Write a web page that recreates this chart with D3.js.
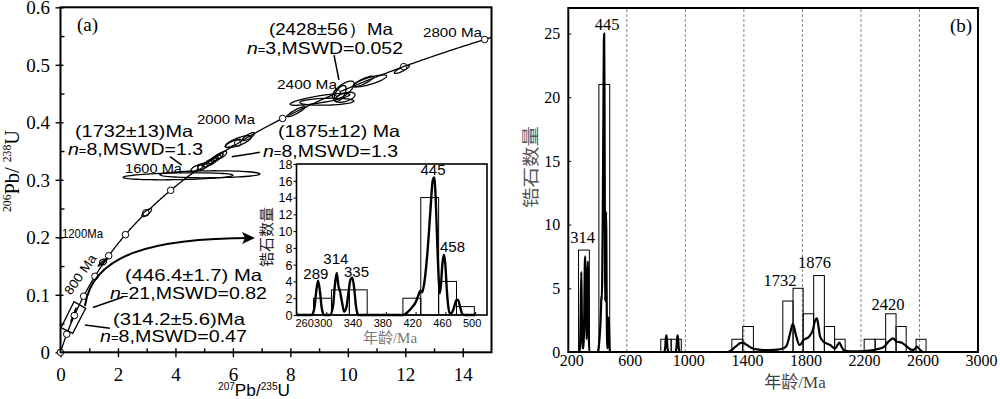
<!DOCTYPE html>
<html>
<head>
<meta charset="utf-8">
<script src="https://cdn.jsdelivr.net/npm/d3@7"></script>
<style>
body { margin: 0; background: #fff; }
text { font-family: "Liberation Sans", Arial, sans-serif; }
text.serif { font-family: "Liberation Serif", "Times New Roman", "Noto Sans CJK SC", serif; }
text.cjk { font-family: "Noto Sans CJK SC", sans-serif; }
</style>
</head>
<body>
<svg id="fig" width="1000" height="399"></svg>
<script>
// ---------- data: concordia diagram (a) ----------
var l238 = 1.55125e-10, l235 = 9.8485e-10;     // decay constants (1/yr)
var concordiaAges = d3.range(0, 2801, 200);     // Ma, marker circles

// error ellipses: [207Pb/235U, 206Pb/238U, sx, sy, rho]
var ellX   = [11.88, 10.54, 10.77, 9.84, 9.73, 9.90, 9.03, 9.27, 8.20, 6.19, 6.54, 6.01, 5.14, 5.26, 5.32, 5.41, 5.49, 5.61, 4.74, 4.97, 4.09, 5.20, 3.00, 1.48, 1.48, 0.39, 0.515];
var ellY   = [0.492, 0.471, 0.472, 0.456, 0.450, 0.4435, 0.440, 0.4358, 0.4184, 0.3663, 0.375, 0.3635, 0.3287, 0.3315, 0.3344, 0.337, 0.3402, 0.3431, 0.320, 0.324, 0.3061, 0.3096, 0.2428, 0.157, 0.157, 0.0562, 0.073];
var ellSx  = [0.26, 0.35, 0.58, 0.38, 0.21, 0.35, 1.04, 0.94, 0.31, 0.45, 0.21, 0.28, 0.17, 0.17, 0.17, 0.17, 0.17, 0.17, 0.20, 0.20, 1.91, 1.74, 0.17, 0.17, 0.12, 0.03, 0.03];
var ellSy  = [0.007, 0.0092, 0.0104, 0.0157, 0.014, 0.0087, 0.0104, 0.0061, 0.0087, 0.0104, 0.007, 0.007, 0.0065, 0.0065, 0.0065, 0.0065, 0.0065, 0.0065, 0.006, 0.006, 0.0061, 0.0061, 0.007, 0.007, 0.005, 0.004, 0.004];
var ellRho = [0.85, 0.85, 0.8, 0.7, 0.6, 0.5, 0.8, 0.2, 0.9, 0.75, 0.8, 0.8, 0.7, 0.7, 0.7, 0.7, 0.7, 0.7, 0.6, 0.6, 0.3, 0.1, 0.8, 0.97, 0.2, 0.9, 0.9];

// weighted-mean box around the young group (corners)
var boxX = [0.017, 0.47, 0.877, 0.425];
var boxY = [0.0428, 0.088, 0.0765, 0.033];

// ---------- data: inset histogram ----------
var insetBinStart = [283, 307, 331, 403, 427, 451, 475];
var insetBinWidth = 24;
var insetCount    = [2, 3, 3, 2, 14, 4, 1];
var insetAge = [260, 280, 284, 286.5, 289, 291.5, 294, 297, 305, 309, 311.5, 314, 316.5, 318.5, 321, 324, 327, 330, 332.5, 335, 337.5, 340, 343,
                403, 410, 416, 420, 424, 426.5, 429, 432, 436, 440, 443, 445, 447, 449, 451, 452.5, 454, 456, 458, 460, 462, 464, 466, 469, 472, 475, 477, 480, 483, 486, 500];
var insetDen = [0, 0, 0.8, 2.8, 4.1, 2.8, 0.8, 0, 0, 1, 3.5, 5, 3.4, 2.8, 1.6, 0.4, 0.9, 2.8, 4.2, 4.45, 3.2, 1, 0,
                0, 0.4, 1, 1.5, 2.4, 2.9, 2.7, 4, 7.5, 12.5, 16, 16.4, 14, 9, 4.5, 2.6, 3.5, 6, 7.2, 6, 3, 1, 0.2, 0.3, 1, 1.8, 1.8, 0.9, 0.1, 0, 0];
var insetPeaks = ["289", "314", "335", "445", "458"];

// ---------- data: histogram (b) ----------
var binStartB = [270, 409, 832, 903, 1318, 1392, 1666, 1736, 1805, 1877, 1950, 2020, 2222, 2297, 2369, 2440, 2577];
var binEndB   = [344, 483, 903, 972, 1392, 1465, 1736, 1805, 1877, 1950, 2020, 2092, 2297, 2369, 2440, 2509, 2645];
var binCountB = [8, 21, 1, 1, 1, 2, 4, 5, 3, 6, 2, 1, 1, 1, 3, 2, 1];
var curveAgeB = [200, 270, 280, 284, 289, 293, 297, 305, 309, 313, 316, 319, 322, 325, 328, 331, 334, 337, 340, 344,
                 400, 410, 416, 420, 424, 426.5, 429, 432, 436, 440, 443, 445, 447, 449, 451, 452.5, 454, 456, 458, 460, 462, 464, 466, 469, 472, 475, 477, 480, 483, 486,
                 855, 862, 866, 870, 874, 878, 885, 932, 939, 943, 947, 951, 955, 962,
                 1290, 1318, 1335, 1352, 1372, 1393, 1412, 1432, 1466, 1489, 1540, 1580, 1630, 1660, 1680, 1694, 1716, 1735, 1757, 1780, 1795, 1807, 1841, 1871, 1885, 1899, 1910, 1921, 1944, 1970, 1990, 2010, 2024, 2040, 2053, 2066, 2081, 2126, 2180, 2240, 2300, 2354, 2388, 2418, 2445, 2479, 2514, 2548, 2565, 2582, 2604, 2627, 3000];
var curveDenB = [0, 0, 0.3, 2.5, 6.3, 2.5, 0.3, 0.3, 3, 7, 7.5, 5, 3, 1, 2, 6, 7.1, 5, 1.5, 0,
                 0, 0.6, 1.5, 2.3, 3.6, 4.4, 4.1, 6, 11.4, 19, 24.3, 25, 21.3, 13.7, 6.8, 4, 5.3, 9.1, 11, 9.1, 4.6, 1.5, 0.3, 0.5, 1.5, 2.7, 2.7, 1.4, 0.2, 0,
                 0, 0.3, 1, 1.3, 1, 0.3, 0, 0, 0.3, 1, 1.3, 1, 0.3, 0,
                 0, 0.16, 0.35, 0.5, 0.68, 0.73, 0.62, 0.46, 0.26, 0.2, 0.15, 0.15, 0.18, 0.25, 0.35, 0.55, 1.47, 2.2, 1.26, 0.55, 0.7, 0.94, 1.15, 1.73, 2.4, 2.64, 2.0, 1.2, 0.81, 0.65, 0.55, 0.35, 0.29, 0.55, 0.73, 0.45, 0.16, 0.05, 0.05, 0.1, 0.2, 0.37, 0.81, 1.07, 0.81, 0.73, 0.42, 0.16, 0.2, 0.42, 0.16, 0, 0];
var peaksB = ["445", "314", "1732", "1876", "2420"];

// ---------- drawing ----------
var svg = d3.select("#fig");

function txt(g, x, y, parts, o) {
    o = o || {};
    var t = g.append("text").attr("x", x).attr("y", y).attr("font-size", o.size || 16);
    if (o.cls) t.attr("class", o.cls);
    if (o.anchor) t.attr("text-anchor", o.anchor);
    if (o.fill) t.attr("fill", o.fill);
    if (o.w) t.attr("textLength", o.w).attr("lengthAdjust", "spacingAndGlyphs");
    if (o.rot) t.attr("transform", "rotate(" + o.rot + "," + x + "," + y + ")");
    parts.forEach(function (p) {
        var s = t.append("tspan").text(p[0]);
        if (p[1]) Object.keys(p[1]).forEach(function (k) { s.attr(k, p[1][k]); });
    });
    return t;
}

/* ===== panel (a) ===== */
var xA = d3.scaleLinear().domain([0, 15]).range([60.5, 491.5]),
    yA = d3.scaleLinear().domain([0, 0.6]).range([352.3, 7.3]);
var gA = svg.append("g");

// ticks
gA.append("g").attr("transform", "translate(0," + yA(0) + ")")
    .call(d3.axisBottom(xA).tickValues(d3.range(0, 15, 2)).tickSize(5).tickFormat(d3.format("d")))
    .call(function (g) {
        g.select(".domain").remove();
        g.selectAll(".tick line").attr("y1", -4).attr("stroke-width", 1.4);
        g.selectAll("text").attr("class", "serif").attr("font-size", 19).attr("y", 28.5).attr("dy", 0);
    });
gA.append("g").attr("transform", "translate(0," + yA(0) + ")")
    .call(d3.axisBottom(xA).tickValues(d3.range(1, 15, 2)).tickSize(-4).tickFormat(""))
    .call(function (g) { g.select(".domain").remove(); g.selectAll(".tick line").attr("stroke-width", 1.4); });
gA.append("g").attr("transform", "translate(" + xA(0) + ",0)")
    .call(d3.axisLeft(yA).tickValues(d3.range(0, 7).map(function (i) { return i / 10; })).tickSize(5)
        .tickFormat(function (d) { return d === 0 ? "0" : d.toFixed(1); }))
    .call(function (g) {
        g.select(".domain").remove();
        g.selectAll(".tick line").attr("x1", 3).attr("stroke-width", 1.4);
        g.selectAll("text").attr("class", "serif").attr("font-size", 19).attr("x", -10.5).attr("dy", "0.33em");
    });
gA.append("g").attr("transform", "translate(" + xA(0) + ",0)")
    .call(d3.axisLeft(yA).tickValues(d3.range(0, 6).map(function (i) { return i / 10 + 0.05; })).tickSize(-4).tickFormat(""))
    .call(function (g) { g.select(".domain").remove(); g.selectAll(".tick line").attr("stroke-width", 1.4); });

// concordia curve and age markers
var conc = function (t) { return [Math.expm1(l235 * t * 1e6), Math.expm1(l238 * t * 1e6)]; };
gA.append("path")
    .attr("d", d3.line().x(function (d) { return xA(d[0]); }).y(function (d) { return yA(d[1]); })(d3.range(0, 2816, 5).map(conc)))
    .attr("fill", "none").attr("stroke", "#000").attr("stroke-width", 1.3);
gA.selectAll(".age").data(concordiaAges).enter().append("circle")
    .attr("cx", function (d) { return xA(conc(d)[0]); })
    .attr("cy", function (d) { return yA(conc(d)[1]); })
    .attr("r", 3.3).attr("fill", "#fff").attr("stroke", "#000").attr("stroke-width", 1);

// ellipses (drawn over the concordia)
var ellLine = d3.line().curve(d3.curveLinearClosed);
d3.range(ellX.length).forEach(function (i) {
    var q = Math.sqrt(1 - ellRho[i] * ellRho[i]);
    var pts = d3.range(0, 360, 5).map(function (a) {
        var t = a * Math.PI / 180;
        return [xA(ellX[i] + ellSx[i] * Math.cos(t)),
                yA(ellY[i] + ellSy[i] * (ellRho[i] * Math.cos(t) + q * Math.sin(t)))];
    });
    gA.append("path").attr("d", ellLine(pts)).attr("fill", "none").attr("stroke", "#000").attr("stroke-width", 1.3);
});

// box
gA.append("path")
    .attr("d", ellLine(boxX.map(function (v, i) { return [xA(v), yA(boxY[i])]; })))
    .attr("fill", "none").attr("stroke", "#000").attr("stroke-width", 1.3);

// arrow and leader lines
svg.append("defs").append("marker").attr("id", "arr").attr("markerUnits", "userSpaceOnUse")
    .attr("markerWidth", 16).attr("markerHeight", 12).attr("refX", 11).attr("refY", 6).attr("orient", "auto")
    .append("path").attr("d", "M0,0L13,6L0,12L3,6Z").attr("fill", "#000");
gA.append("path")
    .attr("d", "M" + xA(0.85) + "," + yA(0.0805) + "C" + xA(1.10) + "," + yA(0.1692) + " " + xA(3.12) + "," + yA(0.1988) + " " + xA(6.70) + "," + yA(0.1988))
    .attr("fill", "none").attr("stroke", "#000").attr("stroke-width", 2).attr("marker-end", "url(#arr)");
[[9.52, 0.517, 9.69, 0.4736], [3.81, 0.3402, 4.22, 0.3257], [5.96, 0.3402, 6.94, 0.3478],
 [1.13, 0.0779, 2.18, 0.0962], [0.85, 0.0475, 1.72, 0.0417]].forEach(function (l) {
    gA.append("line").attr("x1", xA(l[0])).attr("y1", yA(l[1])).attr("x2", xA(l[2])).attr("y2", yA(l[3]))
        .attr("stroke", "#000").attr("stroke-width", 1.5);
});

// frame
gA.append("rect").attr("x", xA(0)).attr("y", yA(0.6)).attr("width", xA(15) - xA(0)).attr("height", yA(0) - yA(0.6))
    .attr("fill", "none").attr("stroke", "#000").attr("stroke-width", 2);

// labels (a)
txt(gA, 77, 31, [["(a)"]], { cls: "serif", size: 19 });
txt(gA, 423, 37, [["2800 Ma"]], { size: 13, w: 59 });
txt(gA, 277, 89, [["2400 Ma"]], { size: 13, w: 60 });
txt(gA, 197, 124, [["2000 Ma"]], { size: 13, w: 58 });
txt(gA, 125, 173, [["1600 Ma"]], { size: 13, w: 57 });
txt(gA, 62, 237.5, [["1200Ma"]], { size: 13, w: 41 });
txt(gA, 84, 277, [["800 Ma"]], { size: 13, w: 46, anchor: "middle", rot: -55 });

function nLine(n, rest) { return [["n", { "font-style": "italic" }], ["=", { "font-size": 11 }], [n + "," + rest]]; }
txt(gA, 269, 35, [["(2428±56）Ma"]], { size: 16.5, w: 124 });
txt(gA, 247, 54, nLine("3", "MSWD=0.052"), { size: 16.5, w: 156 });
txt(gA, 75, 136.5, [["(1732±13)Ma"]], { size: 16.5, w: 118 });
txt(gA, 68, 154.5, nLine("8", "MSWD=1.3"), { size: 16.5, w: 135 });
txt(gA, 278, 137, [["(1875±12) Ma"]], { size: 16.5, w: 122 });
txt(gA, 263, 157, nLine("8", "MSWD=1.3"), { size: 16.5, w: 135 });
txt(gA, 125, 281, [["(446.4±1.7) Ma"]], { size: 16.5, w: 137 });
txt(gA, 110, 299, nLine("21", "MSWD=0.82"), { size: 16.5, w: 157 });
txt(gA, 113, 325, [["(314.2±5.6)Ma"]], { size: 16.5, w: 132 });
txt(gA, 100, 342, nLine("8", "MSWD=0.47"), { size: 16.5, w: 147 });

// axis titles (a)
txt(gA, 254, 396, [["207", { "font-size": 10, dy: -6 }], ["Pb/", { dy: 6 }], ["235", { "font-size": 10, dy: -6 }], ["U", { dy: 6 }]],
    { size: 17, anchor: "middle", w: 72 });
txt(gA, 18.5, 171, [["206", { "font-size": 12, dy: -8 }], ["Pb/ ", { dy: 8 }], ["238", { "font-size": 12, dy: -8 }], ["U", { dy: 8 }]],
    { cls: "serif", size: 21, anchor: "middle", rot: -90, w: 82 });

/* ===== inset ===== */
var xC = d3.scaleLinear().domain([260, 516]).range([296.5, 487]),
    yC = d3.scaleLinear().domain([0, 18]).range([315, 164]);
var gC = svg.append("g");
gC.append("rect").attr("x", xC(260)).attr("y", yC(18)).attr("width", xC(516) - xC(260)).attr("height", yC(0) - yC(18))
    .attr("fill", "#fff");
gC.append("g").attr("transform", "translate(" + xC(260) + ",0)")
    .call(d3.axisLeft(yC).tickValues(d3.range(0, 19, 2)).tickSize(3))
    .call(function (g) {
        g.select(".domain").remove();
        g.selectAll("text").attr("font-size", 12.5).attr("x", -4).attr("dy", "0.35em");
    });
gC.append("g").attr("transform", "translate(0," + yC(0) + ")")
    .call(d3.axisBottom(xC).tickValues(d3.range(260, 501, 40)).tickSize(-3))
    .call(function (g) {
        g.select(".domain").remove();
        g.selectAll("text").attr("font-size", 11).attr("y", 12).attr("dy", 0)
            .attr("text-anchor", function (d) { return d === 260 ? "start" : "middle"; })
            .attr("dx", function (d) { return d === 260 ? -1.5 : -3.5; });
    });
gC.selectAll(".bin").data(insetCount).enter().append("rect")
    .attr("x", function (d, i) { return xC(insetBinStart[i]); })
    .attr("y", function (d) { return yC(d); })
    .attr("width", function (d, i) { return xC(insetBinStart[i] + insetBinWidth) - xC(insetBinStart[i]); })
    .attr("height", function (d) { return yC(0) - yC(d); })
    .attr("fill", "none").attr("stroke", "#000").attr("stroke-width", 1);
gC.append("path")
    .attr("d", d3.line().curve(d3.curveMonotoneX).x(function (d) { return xC(d); }).y(function (d, i) { return yC(insetDen[i]); })(insetAge))
    .attr("fill", "none").attr("stroke", "#000").attr("stroke-width", 2.4);
gC.append("rect").attr("x", xC(260)).attr("y", yC(18)).attr("width", xC(516) - xC(260)).attr("height", yC(0) - yC(18))
    .attr("fill", "none").attr("stroke", "#000").attr("stroke-width", 1.6);
var insetPeakPos = [[315.8, 279], [335.8, 264], [356.5, 277.3], [433, 175], [452.5, 251.7]];
insetPeaks.forEach(function (s, i) {
    txt(gC, insetPeakPos[i][0], insetPeakPos[i][1], [[s]], { size: 14, anchor: "middle", w: 25 });
});
txt(gC, 271.5, 237, [["锆石数量"]], { cls: "cjk", size: 15, anchor: "middle", rot: -90, fill: "#222" });
txt(gC, 390, 343, [["年龄/Ma"]], { cls: "serif", size: 15, anchor: "middle", fill: "#777" });

/* ===== panel (b) ===== */
var xB = d3.scaleLinear().domain([200, 3000]).range([568.3, 978]),
    yB = d3.scaleLinear().domain([0, 27]).range([352, 8]);
var gB = svg.append("g");

gB.selectAll(".grid").data([600, 1000, 1400, 1800, 2200, 2600]).enter().append("line")
    .attr("x1", function (d) { return xB(d); }).attr("x2", function (d) { return xB(d); })
    .attr("y1", yB(0)).attr("y2", yB(27))
    .attr("stroke", "#666").attr("stroke-width", 0.8).attr("stroke-dasharray", "3,2");
gB.append("g").attr("transform", "translate(" + xB(200) + ",0)")
    .call(d3.axisLeft(yB).tickValues(d3.range(0, 26, 5)).tickSize(-3))
    .call(function (g) {
        g.select(".domain").remove();
        g.selectAll("text").attr("class", "serif").attr("font-size", 16).attr("x", -8).attr("dy", "0.33em");
    });
gB.append("g").attr("transform", "translate(0," + yB(0) + ")")
    .call(d3.axisBottom(xB).tickValues(d3.range(200, 3001, 400)).tickSize(0).tickFormat(d3.format("d")))
    .call(function (g) {
        g.select(".domain").remove();
        g.selectAll("text").attr("class", "serif").attr("font-size", 16).attr("y", 13.5).attr("dy", 0).attr("dx", 3);
    });
gB.selectAll(".bin").data(binCountB).enter().append("rect")
    .attr("x", function (d, i) { return xB(binStartB[i]); })
    .attr("y", function (d) { return yB(d); })
    .attr("width", function (d, i) { return xB(binEndB[i]) - xB(binStartB[i]); })
    .attr("height", function (d) { return yB(0) - yB(d); })
    .attr("fill", "none").attr("stroke", "#000").attr("stroke-width", 1);
gB.append("path")
    .attr("d", d3.line().curve(d3.curveMonotoneX).x(function (d) { return xB(d); }).y(function (d, i) { return yB(curveDenB[i]); })(curveAgeB))
    .attr("fill", "none").attr("stroke", "#000").attr("stroke-width", 2.2);
gB.append("rect").attr("x", xB(200)).attr("y", yB(27)).attr("width", xB(3000) - xB(200)).attr("height", yB(0) - yB(27))
    .attr("fill", "none").attr("stroke", "#000").attr("stroke-width", 2);

var peakPosB = [[607, 30], [582.5, 243], [780, 286], [814.5, 268], [888, 310]];
peaksB.forEach(function (s, i) {
    txt(gB, peakPosB[i][0], peakPosB[i][1], [[s]], { cls: "serif", size: 16.5, anchor: "middle" });
});
txt(gB, 950, 32, [["(b)"]], { cls: "serif", size: 19 });
txt(gB, 536.5, 167, [["锆石数量"]], { cls: "cjk", size: 17, anchor: "middle", rot: -90, fill: "#555", w: 82 });
txt(gB, 795, 388, [["年龄/Ma"]], { cls: "serif", size: 17, anchor: "middle", fill: "#444" });
</script>
</body>
</html>
